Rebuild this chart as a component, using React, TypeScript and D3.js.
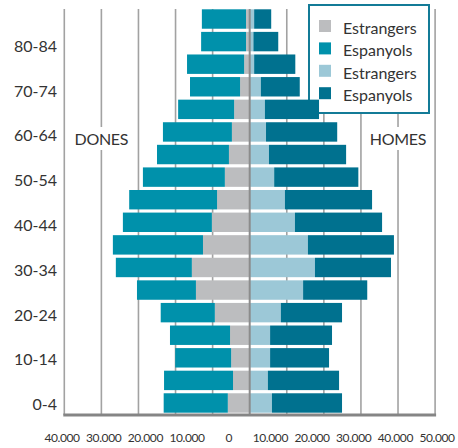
import { useEffect, useRef } from "react";
import * as d3 from "d3";

const ageGroups = [
  "0-4", "5-9", "10-14", "15-19", "20-24", "25-29", "30-34", "35-39", "40-44",
  "45-49", "50-54", "55-59", "60-64", "65-69", "70-74", "75-79", "80-84", "85+",
];
const donesEstrangeres = [5900, 4500, 5000, 5300, 9400, 14500, 15600, 12600, 10200, 8800, 6700, 5600, 4800, 4200, 2600, 1500, 1000, 1000];
const donesEspanyoles = [17300, 18600, 15100, 16200, 14600, 15900, 20500, 24300, 24000, 23700, 22100, 19400, 18600, 15100, 13500, 15400, 12100, 11900];
const homesEstrangers = [6000, 4900, 5500, 5500, 8400, 14400, 17600, 15700, 12200, 9500, 6600, 5200, 4400, 4100, 3000, 1200, 1000, 1200];
const homesEspanyols = [18900, 19200, 15900, 16700, 16500, 17300, 20500, 23200, 23500, 23500, 22700, 20800, 19200, 14600, 10500, 11100, 6700, 4600];

const yTickLabels = ["0-4", "10-14", "20-24", "30-34", "40-44", "50-54", "60-64", "70-74", "80-84"];
const xTickLabels = ["40.000", "30.000", "20.000", "10.000", "0", "10.000", "20.000", "30.000", "40.000", "50.000"];
const gridValues = [-50000, -40000, -30000, -20000, -10000, 10000, 20000, 30000, 40000, 50000];
const legendLabels = ["Estrangers", "Espanyols", "Estrangers", "Espanyols"];
const colors = ["#bcbdbf", "#0091ab", "#9cc8d7", "#00718f"];

function App() {
  const ref = useRef<SVGSVGElement>(null);

  useEffect(() => {
    const svg = d3.select(ref.current);
    svg.selectAll("*").remove();

    const width = 458;
    const height = 448;
    const font = "Lato, 'Open Sans', sans-serif";
    const top = 9;
    const bottom = 415;

    const x = d3.scaleLinear().domain([-50000, 50000]).range([64.3, 435.1]);
    const y = d3
      .scaleBand()
      .domain(ageGroups)
      .range([412.7, 9.3])
      .paddingInner(0.14)
      .paddingOuter(0);
    const yLab = d3.scalePoint().domain(yTickLabels).range([404.5, 46]);
    const xLab = d3.scalePoint().domain(xTickLabels.map((d, i) => i + "")).range([62, 437]);

    svg.attr("width", width).attr("height", height);

    // grid
    svg
      .append("g")
      .selectAll("line")
      .data(gridValues)
      .join("line")
      .attr("x1", (d) => x(d))
      .attr("x2", (d) => x(d))
      .attr("y1", top)
      .attr("y2", bottom)
      .attr("stroke", "#a2a2a2")
      .attr("stroke-width", 1.6);

    // side labels
    const sides = [
      { t: "DONES", v: -40000 },
      { t: "HOMES", v: 40000 },
    ];
    const sg = svg.append("g");
    sg.selectAll("rect")
      .data(sides)
      .join("rect")
      .attr("x", (d) => x(d.v) - 30)
      .attr("y", 127)
      .attr("width", 60)
      .attr("height", 23)
      .attr("fill", "white");
    sg.selectAll("text")
      .data(sides)
      .join("text")
      .attr("x", (d) => x(d.v))
      .attr("y", 144.5)
      .attr("text-anchor", "middle")
      .attr("font-family", font)
      .attr("font-size", 16)
      .attr("letter-spacing", -0.3)
      .attr("fill", "#333")
      .text((d) => d.t);

    // legend
    const lg = svg.append("g");
    lg.append("rect")
      .attr("x", 309)
      .attr("y", 5)
      .attr("width", 120)
      .attr("height", 108)
      .attr("fill", "white")
      .attr("stroke", "#137b97")
      .attr("stroke-width", 2);
    const items = lg
      .selectAll("g")
      .data(legendLabels)
      .join("g")
      .attr("transform", (d, i) => `translate(319,${20 + i * 22.4})`);
    items
      .append("rect")
      .attr("width", 12)
      .attr("height", 12)
      .attr("fill", (d, i) => colors[i]);
    items
      .append("text")
      .attr("x", 24)
      .attr("y", 14)
      .attr("font-family", font)
      .attr("font-size", 16)
      .attr("fill", "#333")
      .text((d) => d);

    // bars
    const rows = ageGroups.map((g, i) => ({
      g,
      de: donesEstrangeres[i],
      ds: donesEspanyoles[i],
      he: homesEstrangers[i],
      hs: homesEspanyols[i],
    }));
    const bars = svg.append("g");
    const seg = (
      cls: string,
      from: (d: any) => number,
      to: (d: any) => number,
      color: string
    ) =>
      bars
        .selectAll("rect." + cls)
        .data(rows)
        .join("rect")
        .attr("class", cls)
        .attr("x", (d) => Math.min(x(from(d)), x(to(d))))
        .attr("width", (d) => Math.abs(x(to(d)) - x(from(d))))
        .attr("y", (d) => y(d.g)!)
        .attr("height", y.bandwidth())
        .attr("fill", color);
    seg("de", () => 0, (d) => -d.de, colors[0]);
    seg("ds", (d) => -d.de, (d) => -d.de - d.ds, colors[1]);
    seg("he", () => 0, (d) => d.he, colors[2]);
    seg("hs", (d) => d.he, (d) => d.he + d.hs, colors[3]);

    // zero line and frame
    svg
      .append("line")
      .attr("x1", x(0))
      .attr("x2", x(0))
      .attr("y1", top)
      .attr("y2", bottom)
      .attr("stroke", "#8c8c8c")
      .attr("stroke-width", 2);
    svg
      .append("line")
      .attr("x1", x(-50000) - 1)
      .attr("x2", x(50000) + 1)
      .attr("y1", bottom)
      .attr("y2", bottom)
      .attr("stroke", "#858585")
      .attr("stroke-width", 3);

    // y labels
    svg
      .append("g")
      .selectAll("text")
      .data(yTickLabels)
      .join("text")
      .attr("x", 57)
      .attr("y", (d) => yLab(d)!)
      .attr("dy", "0.36em")
      .attr("text-anchor", "end")
      .attr("font-family", font)
      .attr("font-size", 16)
      .attr("fill", "#333")
      .text((d) => d);

    // x labels
    svg
      .append("g")
      .selectAll("text")
      .data(xTickLabels)
      .join("text")
      .attr("x", (d, i) => xLab(i + "")!)
      .attr("y", 442)
      .attr("text-anchor", "middle")
      .attr("font-family", font)
      .attr("font-size", 12)
      .attr("letter-spacing", -0.4)
      .attr("fill", "#333")
      .text((d) => d);
  }, []);

  return <svg ref={ref} style={{ position: "absolute", left: 0, top: 0 }}></svg>;
}

export default App;
